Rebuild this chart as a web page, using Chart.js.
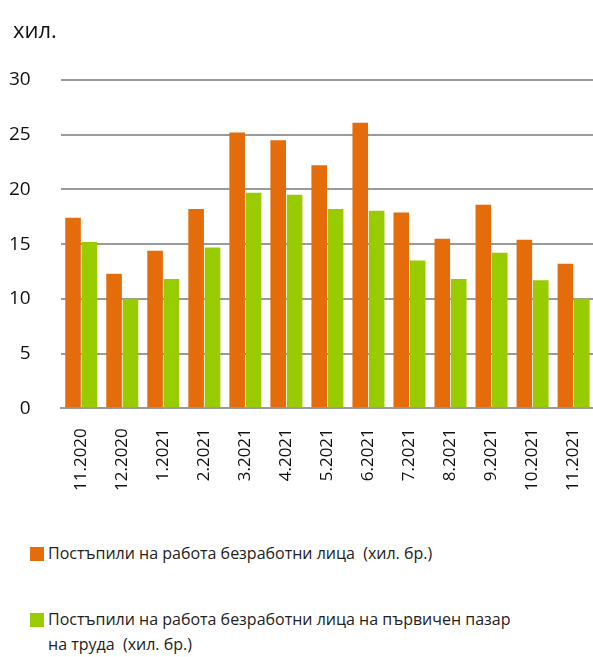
<!DOCTYPE html>
<html>
<head>
<meta charset="utf-8">
<script src="https://cdn.jsdelivr.net/npm/chart.js@4"></script>
<style>
  body { margin: 0; background: #fff; font-family: "Open Sans", sans-serif; }
  #wrap { position: relative; width: 593px; height: 657px; overflow: hidden; }
  #grafico { position: absolute; left: 0; top: 0; }
  #unidade { position: absolute; left: 13px; top: 14px; font-size: 22px; color: #111; }
  .legenda { position: absolute; left: 30px; font-size: 16px; color: #222; line-height: 25px; }
  .legenda span.quad { position: absolute; left: 0; top: 6px; width: 14px; height: 14px; }
  .legenda div.txt { margin-left: 18px; }
</style>
</head>
<body>
<div id="wrap">
  <canvas id="grafico" width="606" height="511"></canvas>
  <div id="unidade">хил.</div>
  <div class="legenda" style="top:541px"><span class="quad" style="background:#E46C0A"></span><div class="txt">Постъпили на работа безработни лица&nbsp;&nbsp;(хил. бр.)</div></div>
  <div class="legenda" style="top:607px"><span class="quad" style="background:#99CC00"></span><div class="txt">Постъпили на работа безработни лица на първичен пазар<br>на труда&nbsp;&nbsp;(хил. бр.)</div></div>
</div>
<script>
const meses = ['11.2020', '12.2020', '1.2021', '2.2021', '3.2021', '4.2021', '5.2021', '6.2021', '7.2021', '8.2021', '9.2021', '10.2021', '11.2021'];
const postupili = [17.4, 12.3, 14.4, 18.2, 25.2, 24.5, 22.2, 26.1, 17.9, 15.5, 18.6, 15.4, 13.2];
const purvichen = [15.2, 10.0, 11.8, 14.7, 19.7, 19.5, 18.2, 18.05, 13.5, 11.8, 14.2, 11.7, 10.0];
const nomesSeries = ['Постъпили на работа безработни лица  (хил. бр.)', 'Постъпили на работа безработни лица на първичен пазар на труда  (хил. бр.)'];

new Chart(document.getElementById('grafico').getContext('2d'), {
  type: 'bar',
  data: {
    labels: meses,
    datasets: [{
      label: nomesSeries[0],
      backgroundColor: '#E46C0A',
      data: postupili
    }, {
      label: nomesSeries[1],
      backgroundColor: '#99CC00',
      data: purvichen
    }]
  },
  options: {
    responsive: false,
    animation: false,
    categoryPercentage: 0.8,
    barPercentage: 0.95,
    // canvas mais largo que a página: a grade vai até a borda direita, como no original
    layout: { padding: { left: -21, right: 0, top: 80, bottom: 8 } },
    plugins: {
      legend: { display: false },
      tooltip: { enabled: false }
    },
    scales: {
      x: {
        grid: { display: false },
        border: { color: '#9a9a9a', width: 2 },
        ticks: {
          minRotation: 90,
          maxRotation: 90,
          padding: 12,
          color: '#111',
          font: { family: 'Open Sans', size: 17 }
        }
      },
      y: {
        min: 0,
        max: 30,
        border: { display: false },
        grid: { color: '#9a9a9a', lineWidth: 2, drawTicks: false },
        ticks: {
          stepSize: 5,
          padding: 30,
          color: '#111',
          font: { family: 'Open Sans', size: 19 }
        }
      }
    }
  }
});
</script>
</body>
</html>
